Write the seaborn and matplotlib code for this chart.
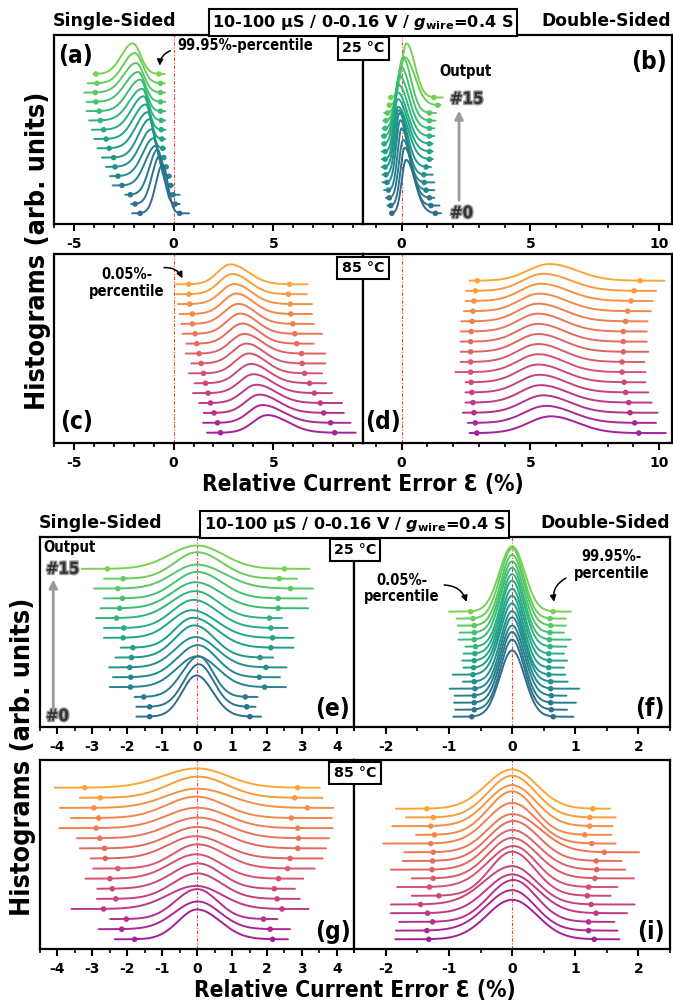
import numpy as np
import matplotlib
matplotlib.use("Agg")
import matplotlib.pyplot as plt
import seaborn as sns
from matplotlib import font_manager as fm
from matplotlib.ticker import MultipleLocator
import matplotlib.patheffects as pe

# ---------------- data (index 0 = output #0 ... 15 = output #15) ----------------
OUTPUTS = list(range(16))

# (a) single-sided, 25 C
A_PEAK = [-0.55, -0.70, -0.80, -0.90, -1.00, -1.10, -1.20, -1.30, -1.40, -1.50, -1.58, -1.68, -1.78, -1.88, -1.95, -2.05]
A_LO = [-1.68, -1.93, -2.17, -2.59, -2.79, -2.94, -3.01, -3.23, -3.39, -3.51, -3.68, -3.73, -3.90, -3.93, -3.85, -3.90]
A_HI = [0.30, 0.08, -0.03, -0.15, -0.24, -0.37, -0.49, -0.55, -0.59, -0.62, -0.62, -0.66, -0.66, -0.66, -0.66, -0.74]
A_MIN = [-2.08, -2.13, -2.42, -3.06, -3.19, -3.39, -3.60, -3.82, -3.98, -4.10, -4.24, -4.37, -4.37, -4.49, -4.32, -4.02]
A_MAX = [0.77, 0.30, 0.30, -0.03, -0.12, -0.33, -0.42, -0.42, -0.42, -0.42, -0.42, -0.42, -0.42, -0.42, -0.45, -0.45]

# (b) double-sided, 25 C
B_PEAK = [0.17, 0.12, 0.06, 0.00, -0.05, -0.08, -0.12, -0.14, -0.15, -0.15, -0.12, -0.08, -0.02, 0.05, 0.12, 0.19]
B_LO = [-0.38, -0.42, -0.48, -0.51, -0.57, -0.61, -0.64, -0.64, -0.64, -0.68, -0.68, -0.64, -0.61, -0.55, -0.48, -0.42]
B_HI = [1.31, 1.14, 1.08, 0.95, 0.88, 0.86, 0.95, 1.08, 1.08, 1.08, 1.08, 1.08, 1.08, 1.08, 1.40, 1.25]
B_MIN = [-0.44, -0.55, -0.61, -0.68, -0.74, -0.74, -0.77, -0.77, -0.77, -0.74, -0.77, -0.74, -0.71, -0.68, -0.51, -0.44]
B_MAX = [1.53, 1.47, 1.27, 1.27, 1.27, 1.21, 1.14, 1.21, 1.21, 1.21, 1.27, 1.27, 1.31, 1.34, 1.51, 1.60]

# (c) single-sided, 85 C
C_PEAK = [4.70, 4.45, 4.30, 4.15, 4.00, 3.88, 3.78, 3.65, 3.55, 3.45, 3.35, 3.25, 3.15, 3.05, 2.95, 2.85]
C_LO = [2.35, 2.20, 2.03, 1.85, 1.73, 1.60, 1.50, 1.38, 1.28, 1.16, 1.08, 0.94, 0.94, 0.81, 0.77, 0.76]
C_HI = [8.08, 7.87, 7.53, 7.36, 7.06, 6.82, 6.57, 6.45, 6.42, 6.18, 6.08, 5.98, 5.88, 5.85, 5.76, 5.82]
C_MIN = [1.68, 1.48, 1.51, 1.28, 0.97, 1.06, 0.77, 0.89, 0.61, 0.64, 0.44, 0.39, 0.30, 0.22, 0.13, 0.08]
C_MAX = [9.13, 8.87, 8.54, 8.45, 7.95, 7.65, 7.45, 7.61, 7.61, 7.03, 7.45, 7.03, 6.94, 6.94, 6.69, 6.72]

# (d) double-sided, 85 C
D_PEAK = [5.80, 5.60, 5.50, 5.40, 5.35, 5.30, 5.30, 5.30, 5.30, 5.30, 5.30, 5.30, 5.35, 5.40, 5.50, 5.75]
D_LO = [2.92, 2.86, 2.81, 2.77, 2.73, 2.70, 2.68, 2.68, 2.68, 2.68, 2.70, 2.74, 2.77, 2.81, 2.87, 2.94]
D_HI = [9.21, 9.05, 8.87, 8.82, 8.70, 8.64, 8.56, 8.56, 8.61, 8.61, 8.61, 8.70, 8.78, 8.91, 9.03, 9.26]
D_MIN = [2.64, 2.57, 2.38, 2.48, 2.48, 2.48, 2.09, 2.29, 2.29, 2.29, 2.29, 2.32, 2.42, 2.48, 2.51, 2.64]
D_MAX = [10.26, 9.88, 9.94, 9.71, 9.58, 9.47, 9.47, 9.43, 9.58, 9.52, 9.52, 9.55, 9.68, 9.75, 9.88, 10.21]

# (e) single-sided, 25 C (second configuration)
E_PEAK = [-0.02, 0.05, 0.05, 0.00, 0.02, -0.05, -0.08, -0.12, -0.15, -0.10, -0.05, -0.05, 0.00, -0.02, 0.00, 0.00]
E_LO = [-1.36, -1.36, -1.53, -1.91, -1.90, -1.93, -1.88, -1.84, -2.12, -2.10, -2.31, -2.22, -2.14, -2.27, -2.12, -2.57]
E_HI = [1.51, 1.42, 1.38, 1.93, 1.78, 1.97, 1.80, 2.11, 2.16, 2.11, 2.07, 2.32, 2.32, 2.67, 2.35, 2.50]
E_MIN = [-1.74, -1.74, -1.79, -2.50, -2.41, -2.52, -2.34, -2.19, -2.67, -2.67, -2.89, -2.77, -2.67, -2.95, -2.67, -3.31]
E_MAX = [1.83, 1.67, 1.73, 2.54, 2.37, 2.56, 2.18, 2.76, 2.76, 2.59, 2.43, 3.18, 3.14, 3.32, 2.86, 3.21]

# (f) double-sided, 25 C (second configuration)
F_PEAK = [0.00, 0.00, 0.00, 0.00, 0.00, 0.00, 0.00, 0.00, 0.00, 0.00, 0.00, 0.00, 0.00, 0.00, 0.00, 0.00]
F_LO = [-0.64, -0.60, -0.60, -0.60, -0.59, -0.60, -0.62, -0.61, -0.60, -0.59, -0.58, -0.60, -0.60, -0.60, -0.62, -0.66]
F_HI = [0.65, 0.62, 0.61, 0.62, 0.61, 0.61, 0.58, 0.58, 0.59, 0.58, 0.60, 0.59, 0.60, 0.61, 0.60, 0.65]
F_MIN = [-0.93, -0.90, -0.92, -0.91, -0.99, -0.78, -0.94, -0.77, -0.79, -0.77, -0.74, -0.85, -0.83, -0.86, -0.88, -1.00]
F_MAX = [0.97, 0.87, 1.01, 0.86, 1.06, 0.88, 0.84, 0.82, 0.87, 0.82, 0.86, 0.93, 0.82, 0.85, 0.85, 0.93]

# (g) single-sided, 85 C (second configuration)
G_PEAK = [0.00, 0.02, 0.00, -0.03, 0.00, 0.02, -0.02, 0.00, -0.05, 0.00, 0.02, 0.00, -0.03, 0.00, 0.02, 0.00]
G_LO = [-1.79, -2.16, -2.03, -2.68, -2.33, -2.43, -2.50, -2.27, -2.63, -2.65, -2.79, -2.89, -2.82, -2.96, -2.77, -3.22]
G_HI = [2.16, 2.09, 1.90, 2.43, 2.29, 2.21, 2.33, 2.59, 2.66, 2.88, 2.90, 2.88, 2.70, 3.16, 2.79, 2.88]
G_MIN = [-2.36, -2.82, -2.49, -3.60, -2.87, -2.86, -3.20, -2.98, -3.05, -3.36, -3.44, -3.95, -3.62, -3.93, -3.36, -4.08]
G_MAX = [2.60, 2.66, 2.30, 3.19, 2.94, 2.80, 3.04, 3.37, 3.59, 3.69, 3.78, 3.88, 3.86, 3.90, 3.59, 3.51]

# (i) double-sided, 85 C (second configuration)
I_PEAK = [0.00, 0.00, 0.02, 0.00, 0.00, 0.00, 0.02, 0.00, 0.00, 0.02, 0.00, 0.00, 0.00, 0.00, 0.00, 0.00]
I_LO = [-1.32, -1.35, -1.26, -1.34, -1.45, -1.16, -1.31, -1.25, -1.27, -1.26, -1.25, -1.29, -1.23, -1.29, -1.25, -1.35]
I_HI = [1.30, 1.21, 1.21, 1.33, 1.25, 1.19, 1.21, 1.31, 1.34, 1.33, 1.46, 1.26, 1.15, 1.23, 1.23, 1.28]
I_MIN = [-1.85, -1.84, -1.79, -1.92, -1.92, -1.59, -1.82, -1.59, -1.92, -1.73, -1.71, -2.04, -1.52, -1.90, -1.68, -1.84]
I_MAX = [1.70, 1.67, 1.62, 1.82, 1.94, 1.56, 1.67, 1.93, 1.79, 1.73, 2.01, 1.64, 1.57, 1.59, 1.64, 1.55]

# ---------------- style ----------------
sns.set_theme(style="ticks")
plt.rcParams["font.family"] = ["DejaVu Sans"]
plt.rcParams["font.weight"] = "bold"
plt.rcParams["axes.unicode_minus"] = False
plt.rcParams["text.color"] = "black"
plt.rcParams["xtick.color"] = "black"
plt.rcParams["axes.labelcolor"] = "black"
plt.rcParams["mathtext.fontset"] = "custom"
plt.rcParams["mathtext.rm"] = "DejaVu Sans:bold"
plt.rcParams["mathtext.bf"] = "DejaVu Sans:bold"
plt.rcParams["mathtext.it"] = "DejaVu Sans:bold:italic"


def has_condensed():
    try:
        p = fm.findfont(fm.FontProperties(family="DejaVu Sans", weight="bold", stretch="condensed"),
                        fallback_to_default=False)
        return "ondensed" in p
    except Exception:
        return False


COND = has_condensed()
if COND:
    LAB = dict(family="DejaVu Sans", stretch="condensed", weight="bold")
    YL_FS, XL_FS, ANN_FS, OUT_FS, NUM_FS, PL_FS = 19.4, 16.3, 10.5, 10.6, 12, 17.5
else:
    LAB = dict(family="DejaVu Sans", weight="bold")
    YL_FS, XL_FS, ANN_FS, OUT_FS, NUM_FS, PL_FS = 17.5, 14.7, 9.5, 9.6, 11, 16

W, H = 673, 1005
fig = plt.figure(figsize=(W / 100, H / 100), dpi=100)
fig.patch.set_facecolor("white")


def fx(p):
    return p / W


def fy(p):
    return 1 - p / H


def add_ax(l, t, r, b):
    return fig.add_axes([fx(l), fy(b), (r - l) / W, (b - t) / H])


def split_pdf(x, mu, sl, sr):
    c = 2.0 / (np.sqrt(2 * np.pi) * (sl + sr))
    s = np.where(x < mu, sl, sr)
    return c * np.exp(-0.5 * ((x - mu) / s) ** 2)


viridis = plt.get_cmap("viridis")
plasma = plt.get_cmap("plasma")
COL25 = [viridis(0.35 + 0.45 * i / 15) for i in OUTPUTS]
COL85 = [plasma(0.36 + 0.44 * i / 15) for i in OUTPUTS]

panels = [
    dict(k="a", box=(54, 35, 363, 224), xlim=(-6, 9.5), ylim=(-1.15, 19.2), maj=5, mnr=1, K=3.97, col=COL25,
         d=(A_PEAK, A_LO, A_HI, A_MIN, A_MAX), lab=(0.013, 0.95, "left", "top")),
    dict(k="b", box=(363, 35, 672, 224), xlim=(-1.5, 10.5), ylim=(-1.39, 23.1), maj=5, mnr=1, K=4.46, col=COL25,
         d=(B_PEAK, B_LO, B_HI, B_MIN, B_MAX), lab=(0.984, 0.92, "right", "top")),
    dict(k="c", box=(54, 254.3, 363, 443.3), xlim=(-6, 9.5), ylim=(-1.07, 18.03), maj=5, mnr=1, K=3.88, col=COL85,
         d=(C_PEAK, C_LO, C_HI, C_MIN, C_MAX), lab=(0.02, 0.05, "left", "bottom")),
    dict(k="d", box=(363, 254.3, 672, 443.3), xlim=(-1.5, 10.5), ylim=(-1.01, 17.6), maj=5, mnr=1, K=3.95, col=COL85,
         d=(D_PEAK, D_LO, D_HI, D_MIN, D_MAX), lab=(0.008, 0.05, "left", "bottom")),
    dict(k="e", box=(40, 537.3, 354.3, 727.3), xlim=(-4.5, 4.5), ylim=(-1.08, 18.2), maj=1, mnr=0.5, K=4.57, col=COL25,
         d=(E_PEAK, E_LO, E_HI, E_MIN, E_MAX), lab=(0.986, 0.035, "right", "bottom")),
    dict(k="f", box=(354.3, 537.3, 670, 727.3), xlim=(-2.5, 2.5), ylim=(-1.51, 25.6), maj=1, mnr=0.5, K=4.65, col=COL25,
         d=(F_PEAK, F_LO, F_HI, F_MIN, F_MAX), lab=(0.984, 0.035, "right", "bottom")),
    dict(k="g", box=(40, 760, 354.3, 949.3), xlim=(-4.5, 4.5), ylim=(-0.99, 17.74), maj=1, mnr=0.5, K=4.44, col=COL85,
         d=(G_PEAK, G_LO, G_HI, G_MIN, G_MAX), lab=(0.99, 0.03, "right", "bottom")),
    dict(k="i", box=(354.3, 760, 670, 949.3), xlim=(-2.5, 2.5), ylim=(-1.15, 20.6), maj=1, mnr=0.5, K=4.53, col=COL85,
         d=(I_PEAK, I_LO, I_HI, I_MIN, I_MAX), lab=(0.984, 0.03, "right", "bottom")),
]

axes = {}
for P in panels:
    ax = add_ax(*P["box"])
    axes[P["k"]] = ax
    peak, lo, hi, xmn, xmx = P["d"]
    ax.axvline(0, color="#e8413c", lw=0.8, ls=(0, (3, 1.5, 1, 1.5)), zorder=1)
    for i in reversed(OUTPUTS):
        sl = (peak[i] - lo[i]) / 3.29
        sr = (hi[i] - peak[i]) / 3.29
        xs = np.linspace(xmn[i], xmx[i], 400)
        ys = i + P["K"] * split_pdf(xs, peak[i], sl, sr)
        z = 3 + (16 - i) * 0.1
        sns.lineplot(x=xs, y=ys, ax=ax, color=P["col"][i], linewidth=1.4, sort=False,
                     estimator=None, zorder=z)
        sns.scatterplot(x=[lo[i], hi[i]], y=[i, i], ax=ax, color=P["col"][i], s=16,
                        edgecolor="none", linewidth=0, zorder=z + 0.05)
    ax.set_xlim(*P["xlim"])
    ax.set_ylim(*P["ylim"])
    ax.set_yticks([])
    ax.set_xlabel("")
    ax.set_ylabel("")
    ax.xaxis.set_major_locator(MultipleLocator(P["maj"]))
    ax.xaxis.set_minor_locator(MultipleLocator(P["mnr"]))
    ax.tick_params(axis="x", which="major", direction="out", length=5, width=1.5, labelsize=10,
                   pad=4, bottom=True, colors="black")
    ax.tick_params(axis="x", which="minor", direction="out", length=3, width=1.2, bottom=True)
    for lbl in ax.get_xticklabels():
        lbl.set_fontweight("bold")
    for sp in ax.spines.values():
        sp.set_visible(True)
        sp.set_linewidth(1.6)
        sp.set_color("black")
    ax.set_facecolor("white")
    lx, ly, ha, va = P["lab"]
    ax.text(lx, ly, "(%s)" % P["k"], transform=ax.transAxes, ha=ha, va=va,
            fontsize=PL_FS, zorder=20, **LAB)

# ---------------- annotations ----------------
arrow_k = dict(arrowstyle="-|>", color="black", lw=1.1, mutation_scale=9)

ax = axes["a"]
ax.text(0.17, 18.1, "99.95%-percentile", ha="left", va="center", fontsize=ANN_FS, zorder=20, **LAB)
ax.annotate("", xy=(-0.69, 15.6), xytext=(-0.03, 17.6),
            arrowprops=dict(connectionstyle="arc3,rad=0.4", **arrow_k), zorder=20)

ax = axes["c"]
ax.text(-2.34, 15.1, "0.05%-\npercentile", ha="center", va="center", fontsize=ANN_FS,
        linespacing=1.15, zorder=20, **LAB)
ax.annotate("", xy=(0.5, 15.35), xytext=(-0.62, 16.65),
            arrowprops=dict(connectionstyle="arc3,rad=-0.4", **arrow_k), zorder=20)

ax = axes["f"]
ax.text(-1.75, 18.3, "0.05%-\npercentile", ha="center", va="center", fontsize=ANN_FS,
        linespacing=1.15, zorder=20, **LAB)
ax.annotate("", xy=(-0.71, 16.0), xytext=(-1.12, 18.8),
            arrowprops=dict(connectionstyle="arc3,rad=-0.4", **arrow_k), zorder=20)
ax.text(1.57, 21.7, "99.95%-\npercentile", ha="center", va="center", fontsize=ANN_FS,
        linespacing=1.15, zorder=20, **LAB)
ax.annotate("", xy=(0.67, 16.0), xytext=(0.89, 19.96),
            arrowprops=dict(connectionstyle="arc3,rad=0.4", **arrow_k), zorder=20)

num_fx = [pe.withStroke(linewidth=2.0, foreground="#9a9a9a")]
gray_arrow = dict(arrowstyle="-|>", color="#9a9a9a", lw=2.0, mutation_scale=12)

ax = axes["b"]
ax.text(2.48, 18.33, "Output", ha="center", va="center", fontsize=OUT_FS, zorder=20, **LAB)
ax.text(1.88, 14.83, "#15", ha="left", va="center", fontsize=NUM_FS, color="#333333",
        path_effects=num_fx, zorder=20, **LAB)
ax.text(1.88, 0.04, "#0", ha="left", va="center", fontsize=NUM_FS, color="#333333",
        path_effects=num_fx, zorder=20, **LAB)
ax.annotate("", xy=(2.23, 13.66), xytext=(2.23, 1.34), arrowprops=gray_arrow, zorder=20)

ax = axes["e"]
ax.text(-3.66, 17.13, "Output", ha="center", va="center", fontsize=OUT_FS, zorder=20, **LAB)
ax.text(-4.33, 15.0, "#15", ha="left", va="center", fontsize=NUM_FS, color="#333333",
        path_effects=num_fx, zorder=20, **LAB)
ax.text(-4.33, 0.07, "#0", ha="left", va="center", fontsize=NUM_FS, color="#333333",
        path_effects=num_fx, zorder=20, **LAB)
ax.annotate("", xy=(-4.12, 14.2), xytext=(-4.12, 0.38), arrowprops=gray_arrow, zorder=20)

# ---------------- figure-level texts ----------------
box_k = dict(boxstyle="square,pad=0.3", fc="white", ec="black", lw=1.5)
title = r"10-100 µS / 0-0.16 V / $g_{\mathrm{wire}}$=0.4 S"

for (ys, xl, xr, xc) in [(21, 53, 671, 363), (523, 39, 670, 354.7)]:
    fig.text(fx(xl), fy(ys), "Single-Sided", ha="left", va="center", fontsize=12.5)
    fig.text(fx(xr), fy(ys), "Double-Sided", ha="right", va="center", fontsize=12.3)
    fig.text(fx(xc), fy(ys + 1.5), title, ha="center", va="center", fontsize=11.6,
             bbox=dict(boxstyle="square,pad=0.22", fc="white", ec="black", lw=1.5))

for (xc, yc, s) in [(363.5, 48.5, "25 °C"), (363, 268, "85 °C"), (355, 550, "25 °C"), (355, 773, "85 °C")]:
    fig.text(fx(xc), fy(yc), s, ha="center", va="center", fontsize=10.3, bbox=box_k, zorder=30)

fig.text(fx(363), fy(484), "Relative Current Error Ɛ (%)", ha="center", va="center", fontsize=XL_FS, **LAB)
fig.text(fx(354.5), fy(990), "Relative Current Error Ɛ (%)", ha="center", va="center", fontsize=XL_FS, **LAB)
fig.text(fx(38), fy(251), "Histograms (arb. units)", ha="center", va="center", rotation=90,
         fontsize=YL_FS, **LAB)
fig.text(fx(23), fy(757), "Histograms (arb. units)", ha="center", va="center", rotation=90,
         fontsize=YL_FS, **LAB)

fig.savefig("out.png", dpi=100, facecolor="white")
